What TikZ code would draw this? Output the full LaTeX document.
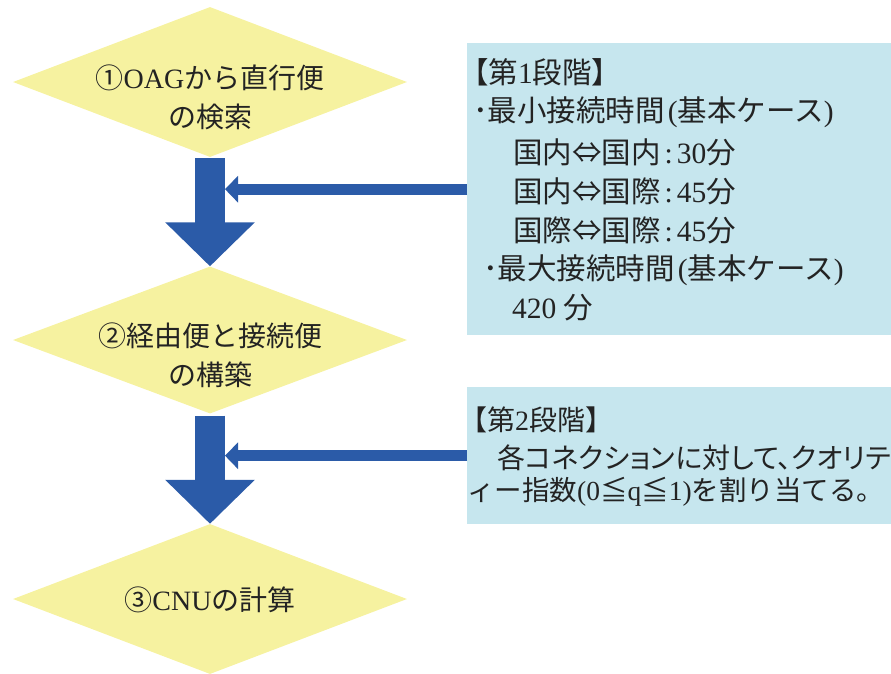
\documentclass[tikz,border=0pt]{standalone}
\usepackage{fontspec}
\setmainfont{Liberation Serif}
\newfontfamily\jp{Noto Sans CJK JP}
\newfontfamily\jpp[RawFeature=+palt]{Noto Sans CJK JP}
\usetikzlibrary{shapes.geometric,arrows.meta}
\definecolor{dyellow}{RGB}{246,242,160}
\definecolor{dblue}{RGB}{43,91,168}
\definecolor{boxblue}{RGB}{198,230,238}
\definecolor{txt}{RGB}{35,35,35}
\newcommand\J[1]{{\jp #1}}
\newcommand\JP[1]{{\jpp #1}}
\begin{document}
\begin{tikzpicture}[x=1pt,y=-1pt,
  dia/.style={diamond, fill=dyellow, draw=none, minimum width=394pt, minimum height=150pt, inner sep=0pt},
  dtext/.style={font=\fontsize{28}{39}\selectfont, text=txt, align=center, inner sep=0pt},
  infobox/.style={fill=boxblue, draw=none, inner sep=0pt, anchor=north west},
  btext/.style={font=\fontsize{29.5}{36}\selectfont, text=txt, anchor=west, inner sep=0pt},
  ctext/.style={font=\fontsize{28}{36}\selectfont, text=txt, anchor=west, inner sep=0pt},
  bigarrow/.style={draw=dblue, line width=30pt, -{Triangle[width=87pt,length=44pt]}},
  thinarrow/.style={draw=dblue, line width=11pt, -{Triangle[width=26pt,length=13pt]}}]
\useasboundingbox (0,0) rectangle (891,673);
\clip (0,0) rectangle (891,673);
% diamonds
\node[dia] (d1) at (210,82) {};
\node[dia, minimum height=147pt] (d2) at (210,340) {};
\node[dia] (d3) at (210,599) {};
\node[dtext] (t1) at (210,97) {\J{①}OAG\J{から直行便}\\\J{の検索}};
\node[dtext] (t2) at (210,355) {\J{②経由便と接続便}\\\J{の構築}};
\node[dtext] (t3) at (210,600) {\J{③}CNU\J{の計算}};
% big arrows
\draw[bigarrow] ([yshift=-1pt]d1.south) -- (d2.north);
\draw[bigarrow] ([yshift=-2pt]d2.south) -- (d3.north);
% info boxes
\node[infobox, minimum width=430pt, minimum height=292pt] (b1) at (467,43) {};
\node[infobox, minimum width=430pt, minimum height=137pt] (b2) at (467,387) {};
% thin arrows
\draw[thinarrow] (b1.west) -- ([xshift=15pt]d1.south |- b1.west);
\draw[thinarrow] (b2.west) -- ([xshift=15pt]d2.south |- b2.west);
% box 1 text
\node[btext] (l11) at (459,72) {\J{【第}1\J{段階】}};
\node[btext] (l12) at (473,112) {\J{･最小接続時間}\hspace{3pt}(\J{基本ケース})};
\node[btext] (l13) at (513,152) {\J{国内⇔国内}\hspace{4pt}:\hspace{4pt}30\J{分}};
\node[btext] (l14) at (513,191) {\J{国内⇔国際}\hspace{4pt}:\hspace{4pt}45\J{分}};
\node[btext] (l15) at (513,230) {\J{国際⇔国際}\hspace{4pt}:\hspace{4pt}45\J{分}};
\node[btext] (l16) at (483,270) {\J{･最大接続時間}\hspace{3pt}(\J{基本ケース})};
\node[btext] (l17) at (512,308) {420 \J{分}};
% box 2 text
\node[ctext] (l21) at (459,420) {\J{【第}2\J{段階】}};
\node[ctext] (l22) at (497,458) {\JP{各コネクションに対して、クオリテ}};
\node[ctext, font=\fontsize{27.5}{36}\selectfont] (l23) at (467,492) {\J{ィー指数}(0\J{≦}q\J{≦}1)\J{を割り当てる。}};
\end{tikzpicture}
\end{document}
